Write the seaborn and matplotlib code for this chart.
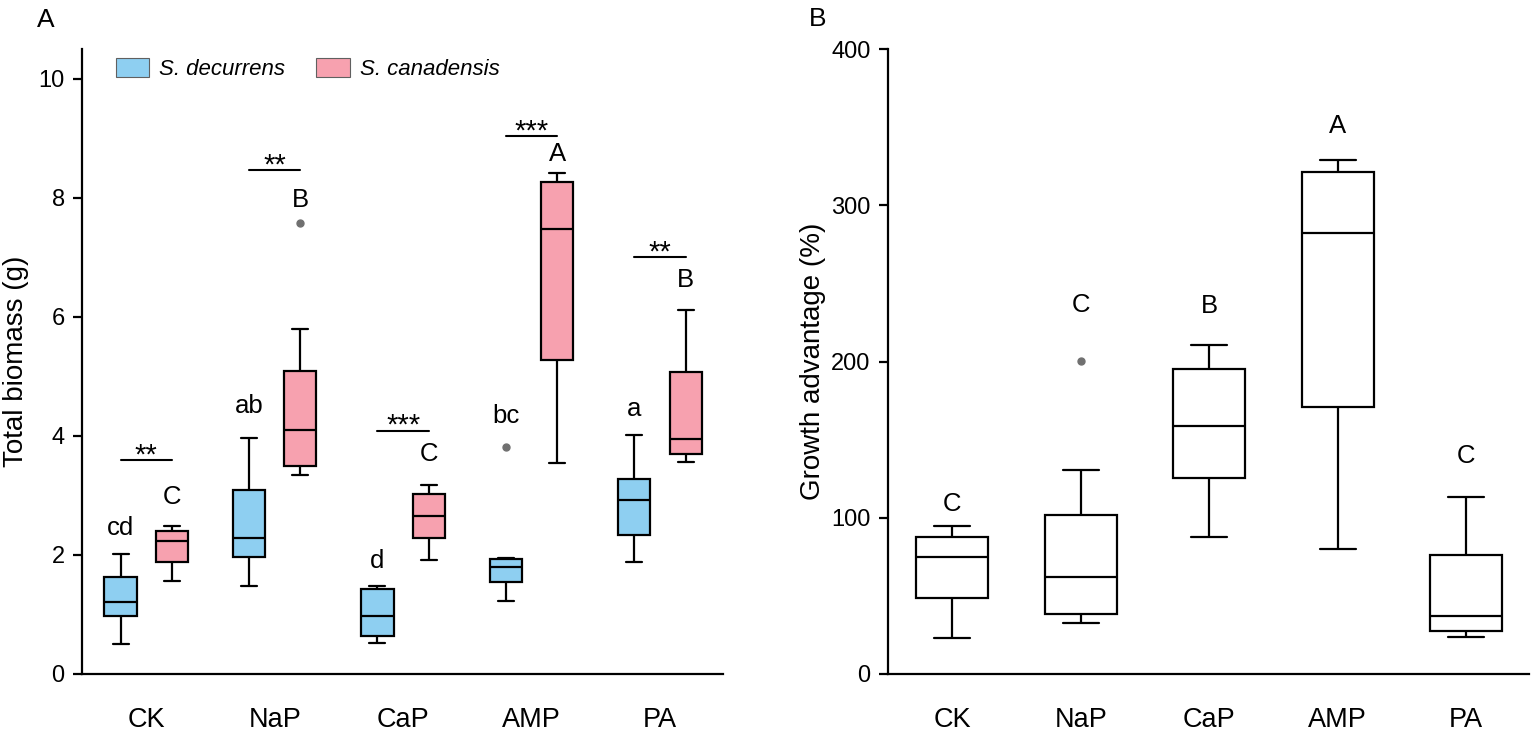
import numpy as np
import pandas as pd
import matplotlib
matplotlib.use("Agg")
import matplotlib.pyplot as plt
import seaborn as sns
from matplotlib.patches import Patch

treatments = ["CK", "NaP", "CaP", "AMP", "PA"]
species = ["S. decurrens", "S. canadensis"]

# panel A, box statistics (g)
dec_low = [0.51, 1.48, 0.52, 1.23, 1.88]
dec_q1 = [0.97, 1.97, 0.64, 1.54, 2.34]
dec_med = [1.21, 2.28, 0.97, 1.80, 2.93]
dec_q3 = [1.63, 3.09, 1.43, 1.93, 3.28]
dec_high = [2.01, 3.96, 1.48, 1.95, 4.01]
dec_out = [None, None, None, 3.82, None]

can_low = [1.57, 3.35, 1.92, 3.54, 3.57]
can_q1 = [1.89, 3.49, 2.29, 5.28, 3.69]
can_med = [2.23, 4.10, 2.65, 7.48, 3.94]
can_q3 = [2.40, 5.09, 3.02, 8.26, 5.07]
can_high = [2.49, 5.80, 3.17, 8.41, 6.11]
can_out = [None, 7.58, None, None, None]

dec_letters = ["cd", "ab", "d", "bc", "a"]
dec_letter_y = [2.46, 4.51, 1.90, 4.34, 4.46]
can_letters = ["C", "B", "C", "A", "B"]
can_letter_y = [2.98, 7.97, 3.69, 8.74, 6.62]
sig_stars = ["**", "**", "***", "***", "**"]
sig_y = [3.59, 8.46, 4.09, 9.04, 7.01]

# panel B, growth advantage (%)
adv_low = [23.1, 32.5, 87.8, 80.1, 23.9]
adv_q1 = [48.7, 38.5, 125.2, 170.7, 27.8]
adv_med = [74.8, 62.2, 158.8, 282.1, 37.2]
adv_q3 = [87.8, 101.7, 195.1, 321.6, 76.3]
adv_high = [94.9, 130.8, 210.7, 329.0, 113.0]
adv_out = [None, 200.4, None, None, None]
adv_letters = ["C", "C", "B", "A", "C"]
adv_letter_y = [109.0, 236.3, 235.6, 350.8, 139.7]

blue = "#8ECFF1"
pink = "#F7A1AF"


def box_points(lo, q1, med, q3, hi, out):
    # nine values whose quartiles / whiskers / flier equal the read statistics
    last = hi if out is None else out
    return [lo, q1, q1, med, med, q3, q3, hi, last]


rows = []
for i, t in enumerate(treatments):
    for v in box_points(dec_low[i], dec_q1[i], dec_med[i], dec_q3[i], dec_high[i], dec_out[i]):
        rows.append((t, species[0], v))
    for v in box_points(can_low[i], can_q1[i], can_med[i], can_q3[i], can_high[i], can_out[i]):
        rows.append((t, species[1], v))
dfA = pd.DataFrame(rows, columns=["treatment", "species", "biomass"])

rows = []
for i, t in enumerate(treatments):
    for v in box_points(adv_low[i], adv_q1[i], adv_med[i], adv_q3[i], adv_high[i], adv_out[i]):
        rows.append((t, v))
dfB = pd.DataFrame(rows, columns=["treatment", "advantage"])

sns.set_style("ticks")
plt.rcParams["font.family"] = ["Liberation Sans", "DejaVu Sans"]
plt.rcParams["text.color"] = "black"
plt.rcParams["axes.labelcolor"] = "black"

fig = plt.figure(figsize=(15.35, 7.35), dpi=100)
W, H = 1535, 735
axA = fig.add_axes([82 / W, 61 / H, 641 / W, 625 / H])
axB = fig.add_axes([888 / W, 61 / H, 641 / W, 625 / H])

flier = dict(marker="o", markerfacecolor="#707070", markeredgecolor="#707070", markersize=5)

sns.boxplot(data=dfA, x="treatment", y="biomass", hue="species", order=treatments,
            hue_order=species, palette=[blue, pink], saturation=1, width=0.8, gap=0.375,
            linecolor="black", linewidth=1.6, flierprops=flier, legend=False, ax=axA)

sns.boxplot(data=dfB, x="treatment", y="advantage", order=treatments, color="white",
            saturation=1, width=0.56, linecolor="black", linewidth=1.6,
            flierprops=flier, ax=axB)

# letters and significance bars, panel A
for i in range(len(treatments)):
    axA.text(i - 0.2, dec_letter_y[i], dec_letters[i], ha="center", va="center", fontsize=18.5)
    axA.text(i + 0.2, can_letter_y[i], can_letters[i], ha="center", va="center", fontsize=18.5)
    axA.plot([i - 0.2, i + 0.2], [sig_y[i], sig_y[i]], color="black", lw=1.5)
    axA.annotate(sig_stars[i], (i, sig_y[i]), xytext=(0, -2.5), textcoords="offset points",
                 ha="center", va="baseline", fontsize=21)

for i in range(len(treatments)):
    axB.text(i, adv_letter_y[i], adv_letters[i], ha="center", va="center", fontsize=18.5)

handles = [Patch(facecolor=blue, edgecolor="#606060", linewidth=0.8),
           Patch(facecolor=pink, edgecolor="#606060", linewidth=0.8)]
axA.legend(handles, species, loc="upper left", bbox_to_anchor=(0.053, 0.985), ncol=2,
           frameon=False, prop={"style": "italic", "size": 16}, handlelength=1.5,
           handleheight=0.9, handletextpad=0.45, columnspacing=1.4, borderpad=0,
           borderaxespad=0)

for ax, ylim, ticks, label, pad in [
        (axA, (0, 10.5), [0, 2, 4, 6, 8, 10], "Total biomass (g)", 7),
        (axB, (0, 400), [0, 100, 200, 300, 400], "Growth advantage (%)", 4)]:
    ax.set_xlim(-0.5, 4.49)
    ax.set_ylim(*ylim)
    ax.set_yticks(ticks)
    ax.set_xlabel("")
    ax.set_ylabel(label, fontsize=20, labelpad=pad)
    sns.despine(ax=ax)
    for s in ["left", "bottom"]:
        ax.spines[s].set_linewidth(1.6)
        ax.spines[s].set_color("black")
    ax.tick_params(axis="y", length=6.5, width=1.6, labelsize=17, pad=6, colors="black")
    ax.tick_params(axis="x", length=0, labelsize=19.5, pad=24, colors="black")

fig.text(37 / W, 1 - 20 / H, "A", fontsize=19, va="center", ha="left")
fig.text(809 / W, 1 - 19 / H, "B", fontsize=19, va="center", ha="left")

fig.savefig("out.png", dpi=100)
